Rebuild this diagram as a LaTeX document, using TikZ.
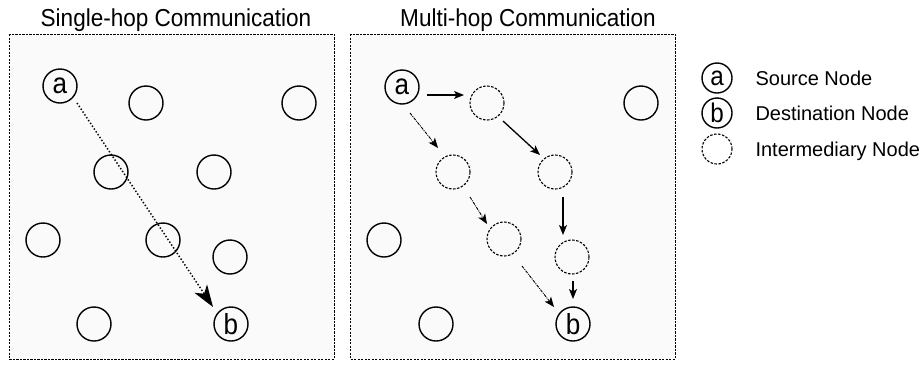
\documentclass[tikz,border=0pt]{standalone}
\usepackage{fontspec}
\setmainfont{Liberation Sans}
\newfontfamily\titlefont[FakeStretch=0.92]{Liberation Sans}
\newfontfamily\letterfont[FakeStretch=0.9]{Liberation Sans}
\usetikzlibrary{arrows.meta,calc}
\definecolor{panelfill}{HTML}{FAFAFA}
\begin{document}
\begin{tikzpicture}[x=1pt,y=-1pt,
  panel/.style={draw=black, fill=panelfill, line width=1pt, dash pattern=on 2.2pt off 1.3pt},
  plain/.style={circle, draw, line width=1.4pt, minimum size=34pt, inner sep=0pt, font=\letterfont\fontsize{29}{29}\selectfont},
  inter/.style={plain, line width=1.1pt, dash pattern=on 2.5pt off 1.5pt},
  legnode/.style={plain, minimum size=30pt, font=\letterfont\fontsize{27}{27}\selectfont},
  leginter/.style={inter, minimum size=30pt},
  legtext/.style={anchor=base west, font=\fontsize{20}{24}\selectfont},
  paneltitle/.style={anchor=base, font=\titlefont\fontsize{24.5}{28}\selectfont},
  hop/.style={-{Stealth[length=10pt,width=8pt,inset=2.5pt]}, line width=1.3pt},
  althop/.style={-{Stealth[length=10pt,width=8pt,inset=2.5pt]}, line width=0.9pt, dash pattern=on 3pt off 1pt on 1pt off 1pt},
  direct/.style={-{Stealth[length=22pt,width=15pt,inset=6pt]}, line width=1.5pt, dash pattern=on 1.4pt off 2pt}
]
\useasboundingbox (0,0) rectangle (923,365);

% panels
\draw[panel] (9,34) rectangle (334,359);
\draw[panel] (350,34) rectangle (675,359);
\node[paneltitle] (t1) at (176,26) {Single-hop Communication};
\node[paneltitle] (t2) at (528,26) {Multi-hop Communication};

% left panel nodes
\node[plain] (La) at (60,86) {a};
\node[plain] (L1) at (146,103) {};
\node[plain] (L2) at (299,103) {};
\node[plain] (L3) at (111,172) {};
\node[plain] (L4) at (214,172) {};
\node[plain] (L5) at (43,240) {};
\node[plain] (L6) at (163,240) {};
\node[plain] (L7) at (230,257) {};
\node[plain] (L8) at (94,324) {};
\node[plain] (Lb) at (231,324) {b};
\draw[direct] ($(La)+(17,17)$) -- ($(Lb)+(-18,-17)$);

% right panel nodes
\node[plain] (Ra) at (402,87) {a};
\node[inter] (R1) at (487,103) {};
\node[plain] (R2) at (641,103) {};
\node[inter] (R3) at (453,172) {};
\node[inter] (R4) at (555,172) {};
\node[plain] (R5) at (384,240) {};
\node[inter] (R6) at (504,239) {};
\node[inter] (R7) at (572,257) {};
\node[plain] (R8) at (436,324) {};
\node[plain] (Rb) at (573,324) {b};

\draw[hop] ($(Ra)+(25,8)$) -- ($(R1)+(-23,-8)$);
\draw[hop] ($(R1)+(16,18)$) -- ($(R4)+(-15,-17)$);
\draw[hop] ($(R4)+(8,25)$) -- ($(R7)+(-9,-22)$);
\draw[hop] ($(R7)+(1,24)$) -- ($(Rb)+(0,-25)$);

\draw[althop] ($(Ra)+(8,26)$) -- ($(R3)+(-15,-24)$);
\draw[althop] ($(R3)+(17,25)$) -- ($(R6)+(-17,-15)$);
\draw[althop] ($(R6)+(18,27)$) -- ($(Rb)+(-19,-17)$);

% legend
\node[legnode] (Ga) at (717,78) {a};
\node[legnode] (Gb) at (717,113) {b};
\node[leginter] (Gi) at (717,149) {};
\node[legtext] (Ta) at (752,85) {Source Node};
\node[legtext] (Tb) at (752,120) {Destination Node};
\node[legtext] (Ti) at (752,156) {Intermediary Node};
\end{tikzpicture}
\end{document}
